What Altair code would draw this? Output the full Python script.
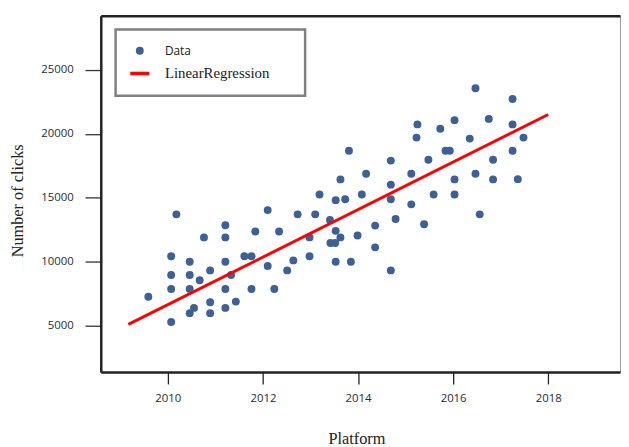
import altair as alt
import pandas as pd

# Data points
years = [2010.18, 2012.10, 2013.19, 2013.63, 2013.53, 2013.73, 2014.08, 2011.21, 2012.73, 2013.10,
         2013.41, 2010.76, 2011.21, 2011.84, 2012.34, 2013.53, 2012.98, 2013.63, 2013.42, 2013.52,
         2013.99, 2014.36, 2014.36, 2014.79, 2015.39, 2015.12, 2016.56, 2014.69, 2010.07, 2010.46,
         2011.21, 2011.61, 2011.76, 2012.98, 2012.64, 2013.53, 2013.85, 2012.10, 2010.89, 2012.51,
         2010.07, 2010.46, 2011.33, 2010.67, 2009.59, 2010.07, 2010.46, 2011.21, 2011.76, 2012.24,
         2010.55, 2010.89, 2011.43, 2011.21, 2010.46, 2010.89, 2010.07, 2016.47, 2017.25, 2015.25,
         2015.23, 2015.73, 2016.03, 2016.75, 2017.25, 2017.48, 2016.35, 2013.81, 2015.84, 2015.93,
         2014.69, 2015.48, 2016.84, 2017.25, 2014.17, 2015.12, 2016.03, 2016.47, 2016.84, 2017.36,
         2014.69, 2014.69, 2015.59, 2016.03]
clicks = [13700, 14030, 15250, 16430, 14810, 14880, 15250, 12850, 13700, 13700,
          13260, 11900, 11900, 12360, 12360, 12410, 11900, 11900, 11460, 11460,
          12050, 12820, 11120, 13340, 12930, 14480, 13700, 9320, 10430, 10000,
          10000, 10430, 10430, 10430, 10100, 10000, 10000, 9660, 9320, 9320,
          8960, 8960, 8960, 8550, 7260, 7860, 7860, 7860, 7860, 7860,
          6390, 6830, 6880, 6390, 5980, 5980, 5290, 23560, 22710, 20730,
          19700, 20390, 21060, 21160, 20730, 19700, 19620, 18670, 18670, 18670,
          17900, 17970, 17970, 18670, 16870, 16870, 16430, 16870, 16430, 16450,
          16020, 14880, 15250, 15250]

# Regression line end points
reg_years = [2009.17, 2018.0]
reg_clicks = [5100, 21500]

series_names = ["Data", "LinearRegression"]
x_ticks = [2010, 2012, 2014, 2016, 2018]
y_ticks = [5000, 10000, 15000, 20000, 25000]

pts = pd.DataFrame({"year": years, "clicks": clicks, "series": ["Data"] * len(years)})
reg = pd.DataFrame({"year": reg_years, "clicks": reg_clicks})

xs = alt.Scale(domain=[2008.59, 2019.51], nice=False, zero=False)
ys = alt.Scale(domain=[1370, 29220], nice=False, zero=False)

legend_kw = dict(
    title=None, orient="none", legendX=15, legendY=14, padding=14,
    strokeColor="#808080", fillColor="white", symbolSize=64,
    symbolOffset=3, labelOffset=18, rowPadding=9, symbolStrokeWidth=0,
    labelColor="#1a1a1a",
    labelExpr="datum.label + '\u2800\u2800'",
    labelFont={"expr": "datum.label == 'Data' ? 'Open Sans' : 'Liberation Serif'"},
    labelFontSize={"expr": "datum.label == 'Data' ? 12 : 15"},
)

points = alt.Chart(pts).mark_point(filled=True, size=64, opacity=1).encode(
    x=alt.X("year:Q", scale=xs, axis=alt.Axis(
        values=x_ticks, format="d", orient="bottom", title="Platform", grid=False,
        domainColor="#222222", domainWidth=2.5, tickColor="#222222", tickWidth=1.3,
        tickSize=12, labelPadding=9, labelFont="Open Sans", labelFontSize=11.5,
        labelColor="#1f2a3a", labelFlush=False,
        titleFont="Liberation Serif", titleFontSize=16.5, titleFontWeight="normal",
        titleColor="#222222", titleX=259, titleY=72, titleAlign="center",
        titleBaseline="alphabetic")),
    y=alt.Y("clicks:Q", scale=ys, axis=alt.Axis(
        values=y_ticks, format="d", title="Number of clicks", grid=False,
        domainColor="#222222", domainWidth=2.5, tickColor="#333333", tickWidth=1.3,
        tickSize=16, labelPadding=12, labelFont="Open Sans", labelFontSize=11.5,
        labelColor="#1f2a3a",
        titleFont="Liberation Serif", titleFontSize=16.5, titleFontWeight="normal",
        titleColor="#222222", titleX=-84, titleY=187, titleAngle=270,
        titleAlign="center", titleBaseline="middle")),
    color=alt.Color("series:N", scale=alt.Scale(domain=series_names, range=["#3d6196", "#ff0000"]),
                    legend=alt.Legend(**legend_kw)),
    shape=alt.Shape("series:N", scale=alt.Scale(domain=series_names,
                                                range=["circle", "M-2.4,-0.45H2.4V0.45H-2.4Z"]),
                    legend=alt.Legend(**legend_kw)),
)

line = alt.Chart(reg).mark_line(color="#ff0000", strokeWidth=3).encode(
    x=alt.X("year:Q", scale=xs, axis=alt.Axis(
        orient="top", labels=False, ticks=False, title=None, grid=False,
        domainColor="#222222", domainWidth=2.5)),
    y=alt.Y("clicks:Q", scale=ys, axis=None),
)

chart = alt.layer(points, line).resolve_axis(x="independent", y="independent").properties(
    width=526, height=361,
    padding={"left": 94, "top": 5, "right": 1, "bottom": 73},
    autosize=alt.AutoSizeParams(type="none"),
    background="white",
).configure_view(stroke="#999999", strokeWidth=1).configure_legend(strokeWidth=2.5)

chart.save("out.html", embed_options={"renderer": "svg", "actions": False})
